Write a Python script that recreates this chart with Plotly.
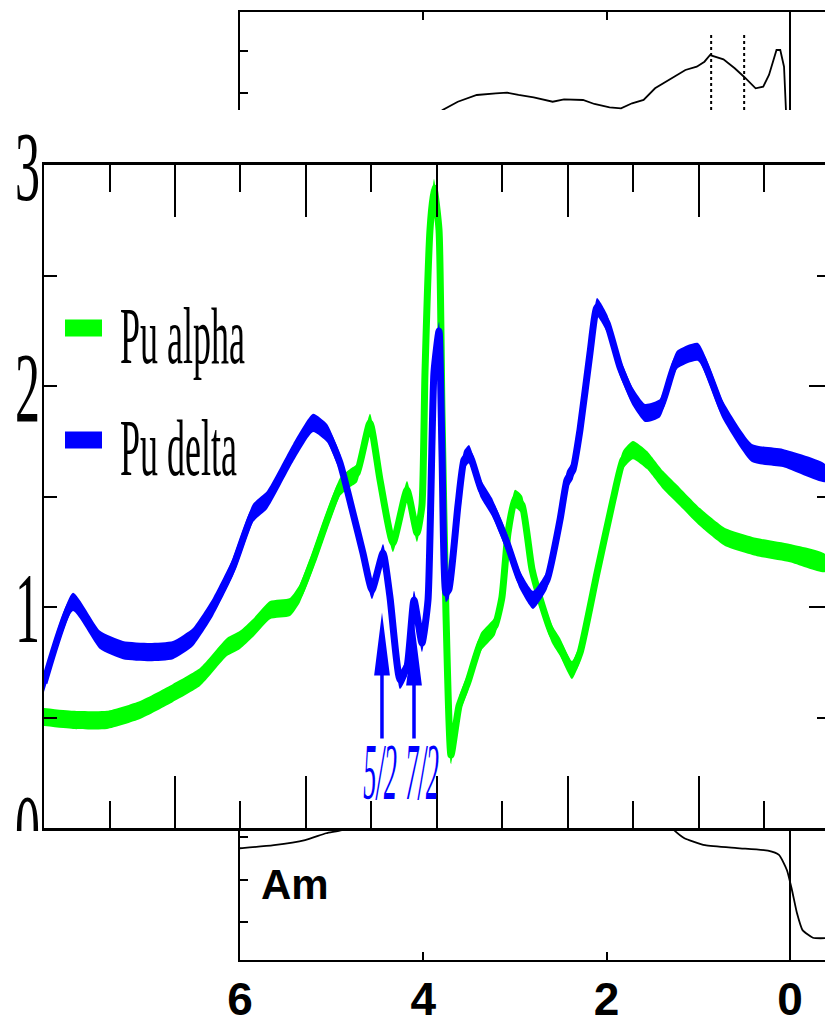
import plotly.graph_objects as go

W, H = 825, 1028


def fx(p):
    return p / W


def fy(p):
    return 1 - p / H


# ---------------- main panel (Pu spectra) ----------------
alpha_x = [0.000, 0.443, 0.962, 1.466, 1.969, 2.382, 2.794, 2.992, 3.191, 3.450, 3.756, 3.908,
           4.107, 4.321, 4.519, 4.672, 4.779, 4.977, 5.130, 5.328, 5.542, 5.695, 5.771, 5.817,
           5.893, 5.954, 6.031, 6.076, 6.137, 6.214, 6.336, 6.473, 6.672, 6.885, 6.992, 7.084,
           7.191, 7.298, 7.450, 7.603, 7.756, 7.878, 8.061, 8.183, 8.443, 8.687, 8.840, 8.992,
           9.206, 9.450, 9.710, 10.015, 10.397, 10.885, 11.389, 11.924]
alpha_y = [0.502, 0.489, 0.489, 0.534, 0.611, 0.683, 0.819, 0.851, 0.905, 0.986, 1.000, 1.063,
           1.213, 1.394, 1.543, 1.584, 1.606, 1.833, 1.575, 1.290, 1.529, 1.335, 1.462, 2.063,
           2.706, 2.896, 2.706, 1.882, 0.973, 0.330, 0.552, 0.661, 0.842, 0.914, 1.045, 1.335,
           1.489, 1.462, 1.172, 1.009, 0.878, 0.819, 0.715, 0.792, 1.154, 1.484, 1.665, 1.710,
           1.665, 1.575, 1.498, 1.407, 1.317, 1.271, 1.244, 1.199]

delta_x = [0.000, 0.443, 0.855, 1.206, 1.618, 1.969, 2.275, 2.580, 2.885, 3.191, 3.405, 3.802,
           4.107, 4.321, 4.519, 4.718, 4.870, 5.008, 5.176, 5.282, 5.435, 5.542, 5.649, 5.771,
           5.863, 5.954, 6.031, 6.076, 6.137, 6.183, 6.321, 6.412, 6.489, 6.672, 6.840, 7.069,
           7.267, 7.466, 7.679, 7.878, 7.985, 8.076, 8.183, 8.336, 8.443, 8.595, 8.794, 8.992,
           9.176, 9.405, 9.664, 9.985, 10.366, 10.809, 11.282, 11.924]
delta_y = [0.656, 1.023, 0.851, 0.805, 0.796, 0.805, 0.864, 1.000, 1.181, 1.425, 1.484, 1.697,
           1.833, 1.787, 1.652, 1.425, 1.244, 1.077, 1.244, 1.045, 0.670, 0.729, 1.032, 0.837,
           1.032, 2.063, 2.249, 1.701, 1.063, 1.081, 1.462, 1.665, 1.692, 1.534, 1.452, 1.290,
           1.122, 1.032, 1.122, 1.394, 1.575, 1.620, 1.801, 2.149, 2.357, 2.285, 2.086, 1.950,
           1.878, 1.900, 2.118, 2.154, 1.891, 1.697, 1.674, 1.606]

series_names = ["Pu alpha", "Pu delta"]
series_colors = ["#00ff00", "#0000ff"]
main_y_ticks = [0, 1, 2, 3]

arrow_labels = ["5/2", "7/2"]
arrow_x = [5.16, 5.649]
arrow_tip_y = [0.975, 0.93]
arrow_base_y = 0.398
arrow_label_y = 0.253
arrow_label_x = [5.13, 5.771]

# ---------------- background Am panels ----------------
am_top_e = [3.95, 3.79, 3.624, 3.417, 3.209, 3.086, 2.962, 2.796, 2.589, 2.465, 2.258, 2.134,
            1.968, 1.843, 1.723, 1.597, 1.472, 1.348, 1.141, 1.017, 0.933, 0.872, 0.726, 0.603,
            0.502, 0.375, 0.292, 0.229, 0.147, 0.106, 0.065, 0.044, 0.027]
am_top_v = [0.30, 0.598, 0.794, 0.953, 0.993, 1.007, 0.953, 0.898, 0.794, 0.851, 0.835, 0.740,
            0.662, 0.638, 0.757, 0.835, 1.111, 1.267, 1.544, 1.622, 1.740, 1.898, 1.797, 1.584,
            1.385, 1.111, 1.149, 1.426, 2.017, 2.017, 1.622, 0.598, 0.125]
am_marks = [0.86, 0.50]
am_mark_top = 2.42

am_bot_e = [6.1, 5.976, 5.63, 5.29, 5.06, 4.89, 4.69, 4.47, None,
            1.42, 1.265, 1.156, 0.927, 0.578, 0.24, 0.12, 0.033, -0.022, -0.076, -0.137, -0.25, -0.39]
am_bot_v = [2.72, 2.74, 2.81, 2.93, 3.09, 3.165, 3.35, 3.64, None,
            3.52, 3.165, 2.98, 2.81, 2.74, 2.68, 2.58, 2.22, 1.75, 1.21, 0.81, 0.63, 0.62]
energy_ticks = [6, 4, 2, 0]

fig = go.Figure()

# band half-thickness (in y units) to mimic the thick pen of the original
half = 0.041
for xs, ys, col, name in zip([alpha_x, delta_x], [alpha_y, delta_y], series_colors, series_names):
    bx = xs + xs[::-1]
    by = [v + half for v in ys] + [v - half for v in ys[::-1]]
    fig.add_trace(go.Scatter(x=bx, y=by, fill="toself", fillcolor=col, mode="lines",
                             line=dict(width=0, color=col, shape="spline", smoothing=0.5),
                             hoverinfo="skip", showlegend=False, xaxis="x", yaxis="y"))
    fig.add_trace(go.Scatter(x=xs, y=ys, mode="lines", name=name,
                             line=dict(color=col, width=7, shape="spline", smoothing=0.5),
                             showlegend=False, xaxis="x", yaxis="y"))

# right-hand tick axis (dummy trace so the overlay subplot exists)
fig.add_trace(go.Scatter(x=[None], y=[None], xaxis="x", yaxis="y2", showlegend=False, hoverinfo="skip"))

# Am panels
fig.add_trace(go.Scatter(x=am_top_e, y=am_top_v, mode="lines", line=dict(color="black", width=1.8),
                         xaxis="x3", yaxis="y3", showlegend=False, hoverinfo="skip"))
fig.add_trace(go.Scatter(x=am_bot_e, y=am_bot_v, mode="lines",
                         line=dict(color="black", width=1.8, shape="spline", smoothing=0.5),
                         connectgaps=False, xaxis="x4", yaxis="y4", showlegend=False, hoverinfo="skip"))

axis_common = dict(showgrid=False, zeroline=False, linecolor="black", tickcolor="black",
                   automargin=False)

fig.update_layout(
    width=W, height=H, margin=dict(l=0, r=0, t=0, b=0, pad=0, autoexpand=False),
    paper_bgcolor="white", plot_bgcolor="rgba(0,0,0,0)",
    showlegend=False,
    xaxis=dict(domain=[fx(44), 1], range=[0, 11.924], anchor="y", showline=True, linewidth=3,
               mirror="ticks", ticks="inside", tickvals=[2, 4, 6, 8, 10], ticklen=52, tickwidth=1.5,
               showticklabels=False,
               minor=dict(tickvals=[1, 3, 5, 7, 9, 11], ticks="inside", ticklen=27, tickwidth=1.5,
                          tickcolor="black", showgrid=False),
               **axis_common),
    yaxis=dict(domain=[fy(828), fy(165)], range=[0, 3], anchor="x", showline=True, linewidth=2,
               ticks="inside", tickvals=main_y_ticks, ticklen=13, tickwidth=2,
               tickfont=dict(family="Liberation Serif", size=100, color="black"),
               ticklabelstandoff=-18,
               minor=dict(tickvals=[0.5, 1.5, 2.5], ticks="inside", ticklen=13, tickwidth=2,
                          tickcolor="black", showgrid=False),
               **axis_common),
    yaxis2=dict(overlaying="y", side="right", anchor="x", range=[0, 3], showline=False,
                ticks="inside", tickvals=[1, 2], ticklen=16, tickwidth=2, showticklabels=False,
                minor=dict(tickvals=[0.5, 1.5, 2.5], ticks="inside", ticklen=8, tickwidth=2,
                           tickcolor="black", showgrid=False),
                **axis_common),
    xaxis3=dict(domain=[fx(240), 1], anchor="y3", side="top", range=[6, -0.382], showline=True,
                linewidth=2, ticks="inside", tickvals=[4, 2], ticklen=8, tickwidth=2,
                showticklabels=False, **axis_common),
    yaxis3=dict(domain=[fy(110), fy(12)], anchor="x3", range=[0.598, 2.915], showline=True,
                linewidth=2, ticks="inside", tickvals=[1, 2], ticklen=8, tickwidth=2,
                showticklabels=False, **axis_common),
    xaxis4=dict(domain=[fx(240), 1], anchor="y4", side="bottom", range=[6, -0.382], showline=True,
                linewidth=2, ticks="inside", tickvals=energy_ticks, ticklen=8, tickwidth=2,
                ticktext=[str(t) for t in energy_ticks], ticklabelstandoff=-2,
                tickfont=dict(family="Liberation Sans", size=46, color="black", weight="bold"),
                **axis_common),
    yaxis4=dict(domain=[fy(960), fy(829)], anchor="x4", range=[0.106, 3.19], showline=True,
                linewidth=2, ticks="inside", tickvals=[1, 2, 3], ticklen=8, tickwidth=2,
                showticklabels=False, **axis_common),
)

shapes = []
# Fermi-level lines in the Am panels
for xr, yr in [("x3", "y3 domain"), ("x4", "y4 domain")]:
    shapes.append(dict(type="line", xref=xr, yref=yr, x0=0, x1=0, y0=0, y1=1,
                       line=dict(color="black", width=2)))
for e in am_marks:
    shapes.append(dict(type="line", xref="x3", yref="y3", x0=e, x1=e, y0=0.598, y1=am_mark_top,
                       line=dict(color="black", width=2, dash="dot")))
# legend samples
for i, col in enumerate(series_colors):
    ypix = 328 + 112 * i
    shapes.append(dict(type="line", xref="paper", yref="paper", x0=fx(65), x1=fx(102),
                       y0=fy(ypix), y1=fy(ypix), line=dict(color=col, width=17)))
# clip the bottom of the "0" tick label like the cropped original
shapes.append(dict(type="rect", xref="paper", yref="paper", x0=0, x1=fx(43), y0=fy(900), y1=fy(831),
                   fillcolor="white", line=dict(width=0), layer="above"))

annotations = []
for i, name in enumerate(series_names):
    annotations.append(dict(text=name, xref="paper", yref="paper", x=fx(118), y=fy(336 + 112 * i),
                            xanchor="left", yanchor="middle", showarrow=False,
                            font=dict(family="Liberation Serif", size=80, color="black")))
for ax_, tip, lx, lab in zip(arrow_x, arrow_tip_y, arrow_label_x, arrow_labels):
    annotations.append(dict(text="", x=ax_, y=tip, xref="x", yref="y", ax=ax_, ay=arrow_base_y,
                            axref="x", ayref="y", showarrow=True, arrowhead=2, arrowsize=0.9,
                            arrowwidth=14, arrowcolor="#0000ff"))
    annotations.append(dict(text="<i>%s</i>" % lab, x=lx, y=arrow_label_y, xref="x", yref="y",
                            showarrow=False, xanchor="center", yanchor="middle",
                            font=dict(family="Liberation Serif", size=80, color="#0000ff")))
annotations.append(dict(text="<b>Am</b>", xref="paper", yref="paper", x=fx(295), y=fy(884),
                        xanchor="center", yanchor="middle", showarrow=False,
                        font=dict(family="Liberation Sans", size=42, color="black")))

fig.update_layout(shapes=shapes, annotations=annotations)

# The original artwork is horizontally compressed; reproduce the narrow, tall
# lettering by scaling the (still real) SVG text horizontally after drawing.
post = """
var gd = document.getElementById('{plot_id}');
function sq(el, sx, ax) {
  var b = el.getBBox();
  if (!b || b.width === 0) return;
  var cx = b.x + b.width * ax, cy = b.y + b.height / 2;
  var t = el.getAttribute('transform') || '';
  el.setAttribute('transform', t + ' translate(' + cx + ',' + cy + ') scale(' + sx + ',1) translate(' + (-cx) + ',' + (-cy) + ')');
}
gd.querySelectorAll('.ytick text').forEach(function (el) { sq(el, 0.5, 1); });
gd.querySelectorAll('text.annotation-text').forEach(function (el) {
  var s = el.textContent;
  if (s.indexOf('Pu') === 0) { sq(el, 0.45, 0); }
  else if (s.indexOf('/2') > 0) { sq(el, 0.33, 0.5); }
});
gd.querySelectorAll('.annotation-arrow-g').forEach(function (el) { sq(el, 0.25, 0.5); });
"""

fig.write_html("out.html", post_script=post)
